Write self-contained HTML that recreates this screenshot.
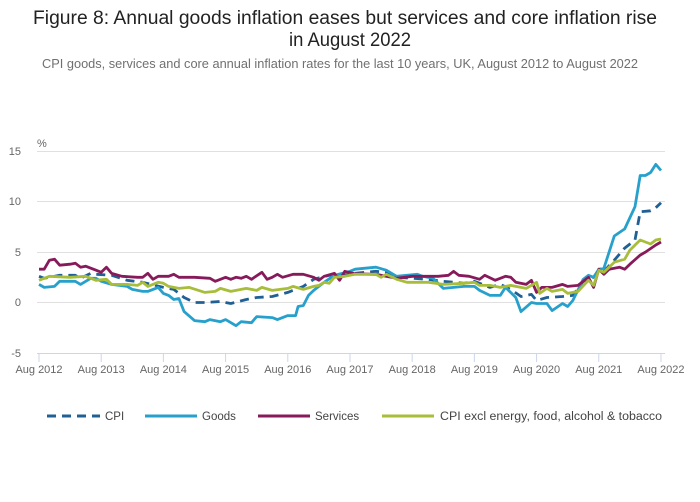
<!DOCTYPE html>
<html><head><meta charset="utf-8"><style>
html,body{margin:0;padding:0;background:#fff;}
svg{display:block;font-family:"Liberation Sans",sans-serif;}
</style></head><body>
<svg id="s" width="700" height="502" viewBox="0 0 700 502" xmlns="http://www.w3.org/2000/svg">
<text x="345" y="24" text-anchor="middle" font-size="19" fill="#222" textLength="624" lengthAdjust="spacingAndGlyphs">Figure 8: Annual goods inflation eases but services and core inflation rise</text>
<text x="350" y="46" text-anchor="middle" font-size="19" fill="#222" textLength="122" lengthAdjust="spacingAndGlyphs">in August 2022</text>
<text x="340" y="68" text-anchor="middle" font-size="12.5" fill="#707070" textLength="596" lengthAdjust="spacingAndGlyphs">CPI goods, services and core annual inflation rates for the last 10 years, UK, August 2012 to August 2022</text>
<g stroke="#e0e0e0" stroke-width="1">
<line x1="37" x2="665" y1="151.5" y2="151.5"/>
<line x1="37" x2="665" y1="201.5" y2="201.5"/>
<line x1="37" x2="665" y1="252.5" y2="252.5"/>
<line x1="37" x2="665" y1="302.5" y2="302.5"/>
</g>
<line x1="37" x2="665" y1="353.5" y2="353.5" stroke="#ccd6eb"/>
<g font-size="11" fill="#666" text-anchor="end">
<text x="21" y="155">15</text><text x="21" y="205">10</text><text x="21" y="256">5</text><text x="21" y="306">0</text><text x="21" y="357">-5</text>
</g>
<text x="37" y="147" font-size="11" fill="#666">%</text>
<g id="ticks" stroke="#ccd6eb"></g>
<g id="xl" font-size="11" fill="#666" text-anchor="middle"></g>
<g id="lines" fill="none" stroke-width="2.8" stroke-linejoin="round"></g>
<g font-size="11.5" fill="#444">
<line x1="47" x2="100" y1="416" y2="416" stroke="#206095" stroke-width="3" stroke-dasharray="9,6"/>
<text x="105" y="420">CPI</text>
<line x1="145" x2="197" y1="416" y2="416" stroke="#27a0cc" stroke-width="3"/>
<text x="202" y="420">Goods</text>
<line x1="258" x2="310" y1="416" y2="416" stroke="#871a5b" stroke-width="3"/>
<text x="315" y="420">Services</text>
<line x1="382" x2="434" y1="416" y2="416" stroke="#a8bd3a" stroke-width="3"/>
<text x="440" y="420" textLength="222" lengthAdjust="spacingAndGlyphs">CPI excl energy, food, alcohol &amp; tobacco</text>
</g>
</svg>
<script>
var NS="http://www.w3.org/2000/svg";
function X(m){return 39+m*5.183;}
function Y(v){return 302.5-v*10.08;}
var tk=document.getElementById("ticks"),xl=document.getElementById("xl");
for(var i=0;i<=10;i++){var x=X(i*12);
var l=document.createElementNS(NS,"line");l.setAttribute("x1",x);l.setAttribute("x2",x);l.setAttribute("y1",353);l.setAttribute("y2",362);tk.appendChild(l);
var t=document.createElementNS(NS,"text");t.setAttribute("x",x);t.setAttribute("y",373);t.textContent="Aug "+(2012+i);xl.appendChild(t);}
var core=[[0,2.2],[2,2.6],[6,2.5],[9,2.6],[11,2.2],[13,2.3],[14,1.8],[17,1.8],[19,1.7],[20,2.0],[21,1.6],[23,2.0],[24,1.9],[25,1.6],[27,1.4],[29,1.5],[32,1.0],[34,1.1],[35,1.4],[37,1.1],[40,1.4],[42,1.2],[43,1.5],[45,1.2],[48,1.4],[49,1.6],[51,1.3],[53,1.6],[54,1.7],[55,2.0],[56,1.9],[57,2.5],[59,2.6],[61,2.8],[65,2.8],[66,2.5],[67,2.8],[69,2.3],[71,2.0],[75,2.0],[78,1.8],[82,1.9],[84,2.0],[85,1.7],[87,1.7],[89,1.5],[91,1.7],[94,1.4],[96,2.0],[96.6,0.9],[98,1.4],[99,1.1],[101,1.3],[102,0.9],[104,1.1],[106,2.2],[107,1.7],[108,3.2],[109,3.0],[111,4.0],[113,4.3],[114,5.2],[116,6.2],[118,5.8],[119,6.2],[120,6.3]];
var serv=[[0,3.3],[1,3.3],[2,4.2],[3,4.3],[4,3.7],[6,3.8],[7,3.9],[8,3.5],[9,3.6],[11,3.2],[12,3.0],[13,3.5],[14,2.9],[16,2.6],[19,2.5],[20,2.5],[21,2.9],[22,2.3],[23,2.6],[25,2.6],[26,2.8],[27,2.5],[30,2.5],[33,2.4],[34,2.1],[36,2.5],[37,2.3],[38,2.5],[39,2.4],[40,2.6],[41,2.3],[43,3.0],[44,2.3],[45,2.5],[46,2.8],[47,2.5],[49,2.8],[51,2.8],[53,2.5],[54,2.2],[55,2.6],[57,2.9],[58,2.2],[59,3.1],[61,2.85],[65,2.8],[69,2.4],[72,2.6],[77,2.6],[79,2.7],[80,3.1],[81,2.7],[83,2.6],[85,2.3],[86,2.7],[88,2.2],[90,2.6],[91,2.5],[92,2.0],[94,1.8],[95,2.2],[96,1.0],[97,1.5],[99,1.5],[101,1.8],[102,1.6],[104,1.7],[106,2.5],[107,1.5],[108,3.3],[109,2.8],[110,3.3],[112,3.5],[113,3.3],[114,3.8],[116,4.7],[117,5.0],[119,5.7],[120,6.0]];
var goods=[[0,1.8],[1,1.5],[3,1.6],[4,2.1],[7,2.1],[8,1.8],[10,2.4],[11,2.4],[12,2.1],[14,1.8],[17,1.6],[18,1.3],[20,1.1],[21,1.1],[23,1.5],[24,0.9],[25,0.7],[26,0.3],[27,0.4],[28,-0.9],[30,-1.8],[32,-1.9],[33,-1.7],[35,-1.9],[36,-1.7],[38,-2.3],[39,-1.9],[41,-2.0],[42,-1.4],[45,-1.5],[46,-1.7],[48,-1.3],[49.5,-1.3],[50,-0.4],[51,-0.3],[52,0.7],[53,1.2],[55,2.0],[57,2.7],[60,3.1],[61,3.3],[63,3.4],[65,3.5],[67,3.2],[69,2.6],[71,2.7],[73,2.8],[74,2.6],[76,2.4],[78,1.4],[82,1.6],[84,1.6],[85,1.2],[87,0.7],[89,0.7],[90,1.5],[92,0.5],[93,-0.9],[95,0.0],[96,-0.1],[98,-0.1],[99,-0.8],[101,-0.1],[102,-0.4],[103,0.2],[105,2.3],[106,2.7],[107,2.5],[108,3.3],[109,3.4],[111,6.6],[113,7.3],[115,9.5],[116,12.6],[117,12.6],[118,12.9],[119,13.7],[120,13.1]];
var cpi=[[0,2.6],[1,2.4],[4,2.7],[7,2.7],[8,2.4],[10,2.9],[11,2.8],[14,2.7],[17,2.2],[20,2.0],[24,1.5],[26,1.3],[28,0.5],[30,0.0],[32,0.0],[35,0.1],[37,-0.1],[40,0.3],[42,0.5],[45,0.6],[48,1.0],[51,1.6],[53,2.3],[56,2.7],[60,2.9],[61,2.9],[65,3.1],[67,3.0],[69,2.5],[72,2.4],[75,2.3],[78,2.1],[82,1.9],[84,2.1],[87,1.5],[89,1.8],[91,1.3],[93,0.6],[95,0.8],[96,0.2],[98,0.5],[101,0.6],[103,0.7],[105,2.1],[107,2.5],[108,3.2],[109,3.1],[111,4.2],[113,5.4],[115,6.2],[116,9.0],[118,9.1],[119,9.4],[120,9.9]];
var g=document.getElementById("lines");
function add(d,c,dash){var p=document.createElementNS(NS,"polyline");p.setAttribute("points",d.map(function(a){return X(a[0]).toFixed(1)+","+Y(a[1]).toFixed(1)}).join(" "));p.setAttribute("stroke",c);if(dash)p.setAttribute("stroke-dasharray",dash);g.appendChild(p);}
add(cpi,"#206095","9,6");add(goods,"#27a0cc");add(serv,"#871a5b");add(core,"#a8bd3a");
</script>
</body></html>
